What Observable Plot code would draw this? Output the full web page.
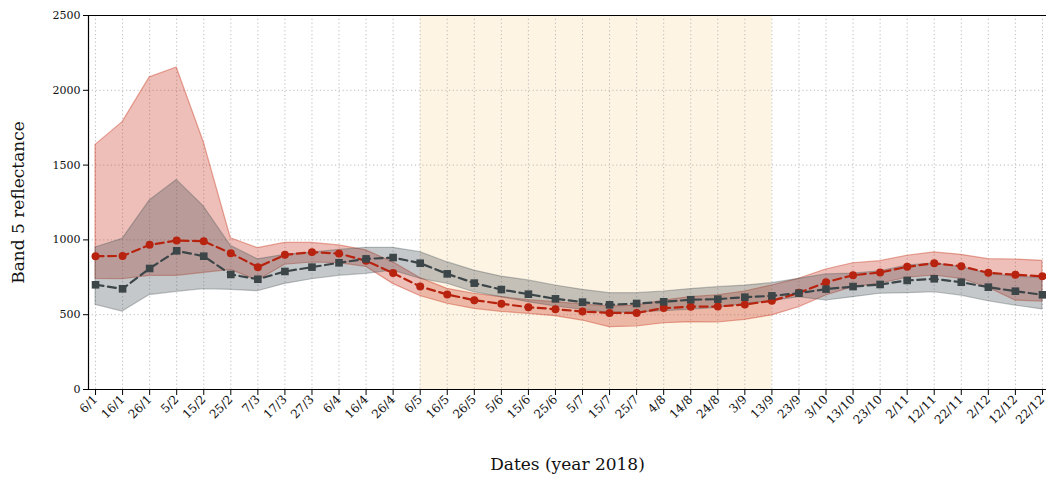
<!DOCTYPE html>
<html>
<head>
<meta charset="utf-8">
<script src="https://cdn.jsdelivr.net/npm/d3@7"></script>
<script src="https://cdn.jsdelivr.net/npm/@observablehq/plot@0.6"></script>
<style>
  html, body { margin: 0; padding: 0; background: #fff; }
</style>
</head>
<body>
<div id="chart"></div>
<script>
const labels = ["6/1","16/1","26/1","5/2","15/2","25/2","7/3","17/3","27/3","6/4","16/4","26/4",
  "6/5","16/5","26/5","5/6","15/6","25/6","5/7","15/7","25/7","4/8","14/8","24/8",
  "3/9","13/9","23/9","3/10","13/10","23/10","2/11","12/11","22/11","2/12","12/12","22/12"];

const redMean  = [891,893,967,996,991,911,818,900,918,909,860,778,688,635,597,573,550,537,521,512,512,544,553,555,568,593,646,717,764,782,820,844,824,780,767,757];
const redUpper = [1635,1787,2086,2152,1653,1011,945,980,980,963,930,850,745,673,640,617,597,584,568,555,561,595,617,630,655,695,740,802,844,858,894,916,900,871,869,860];
const redLower = [740,737,760,760,780,800,729,834,849,845,820,706,625,573,539,519,506,490,461,417,421,443,450,448,466,495,550,628,684,707,747,762,740,680,595,588];

const greyMean  = [700,673,809,927,891,769,737,789,818,847,873,882,844,773,711,668,637,606,584,566,575,586,600,604,617,626,644,671,688,702,729,740,717,684,657,633];
const greyUpper = [949,1007,1263,1401,1223,960,870,900,915,933,947,947,918,851,795,755,729,695,666,644,644,655,671,684,695,711,740,769,775,790,829,844,818,773,755,745];
const greyLower = [566,521,631,653,671,666,657,706,737,760,773,795,740,707,650,617,584,555,533,512,515,523,533,545,573,590,617,595,617,640,644,650,628,590,561,535];

const yTicks = [0, 500, 1000, 1500, 2000, 2500];
const shadeRange = ["6/5", "13/9"];
const xDomain = [-0.26, 35.15];

const data = labels.map((d, i) => ({
  i, label: d,
  rm: redMean[i], ru: redUpper[i], rl: redLower[i],
  gm: greyMean[i], gu: greyUpper[i], gl: greyLower[i]
}));
const idx = labels.map((d, i) => i);

const redLine = "#b8230f";
const greyLine = "#3c4548";
const serif = "DejaVu Serif";

const chart = Plot.plot({
  width: 1046,
  height: 477,
  marginLeft: 88,
  marginRight: 0,
  marginTop: 15,
  marginBottom: 88,
  style: { fontFamily: serif, fontSize: "11px", color: "#111", background: "#fff", overflow: "visible" },
  x: { type: "linear", domain: xDomain },
  y: { domain: [yTicks[0], yTicks[yTicks.length - 1]] },
  marks: [
    Plot.rect([shadeRange], {
      x1: d => labels.indexOf(d[0]),
      x2: d => labels.indexOf(d[1]),
      fill: "#fdf0d8", fillOpacity: 0.7
    }),
    Plot.gridX(idx, { stroke: "#b0b0b0", strokeOpacity: 0.85, strokeDasharray: "1.2,2.6", strokeWidth: 1 }),
    Plot.gridY(yTicks, { stroke: "#b0b0b0", strokeOpacity: 0.85, strokeDasharray: "1.2,2.6", strokeWidth: 1 }),
    Plot.areaY(data, {
      x: "i", y1: "rl", y2: "ru",
      fill: "#cc3d26", fillOpacity: 0.33,
      stroke: "#cc3d26", strokeOpacity: 0.45, strokeWidth: 1.2
    }),
    Plot.areaY(data, {
      x: "i", y1: "gl", y2: "gu",
      fill: "#4a5559", fillOpacity: 0.32,
      stroke: "#4a5559", strokeOpacity: 0.35, strokeWidth: 1.2
    }),
    Plot.line(data, { x: "i", y: "rm", stroke: redLine, strokeWidth: 2.2, strokeDasharray: "8,4.5" }),
    Plot.dot(data, { x: "i", y: "rm", r: 4, fill: redLine, stroke: "none" }),
    Plot.line(data, { x: "i", y: "gm", stroke: greyLine, strokeWidth: 2.2, strokeDasharray: "8,4.5" }),
    Plot.dot(data, { x: "i", y: "gm", r: 4.3, symbol: "square", fill: greyLine, stroke: "none" }),
    Plot.ruleY([yTicks[0], yTicks[yTicks.length - 1]], { stroke: "#000", strokeWidth: 1.2 }),
    Plot.ruleX([xDomain[0]], { stroke: "#000", strokeWidth: 1.2 }),
    Plot.axisX(idx, {
      tickFormat: i => labels[i], tickRotate: -45, tickSize: 6, tickPadding: 2,
      label: null, fontSize: 12, stroke: "#000"
    }),
    Plot.axisY(yTicks, {
      tickFormat: d => String(d), tickSize: 5, tickPadding: 3, label: null, fontSize: 11, stroke: "#000"
    }),
    Plot.text(["Band 5 reflectance"], {
      frameAnchor: "left", dx: -70, rotate: -90, textAnchor: "middle", lineAnchor: "middle",
      fontSize: 17, fontFamily: serif, fill: "#111"
    }),
    Plot.text(["Dates (year 2018)"], {
      frameAnchor: "bottom", dy: 75, textAnchor: "middle", lineAnchor: "middle",
      fontSize: 17, fontFamily: serif, fill: "#111"
    })
  ]
});
document.getElementById("chart").appendChild(chart);
</script>
</body>
</html>
